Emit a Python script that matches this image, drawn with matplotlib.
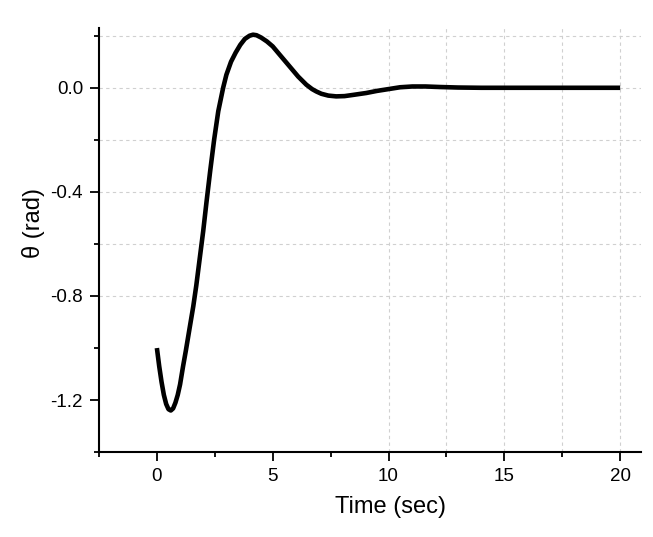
import numpy as np
import matplotlib.pyplot as plt
from matplotlib.ticker import MultipleLocator

# --------------------
# Data
# --------------------
time_s = [0.0, 0.1, 0.2, 0.3, 0.4, 0.5, 0.6, 0.7, 0.8, 0.9, 1.0, 1.13, 1.25,
          1.4, 1.57, 1.7, 1.8, 1.9, 2.0, 2.14, 2.3, 2.47, 2.65, 2.86, 3.0,
          3.2, 3.4, 3.6, 3.8, 4.0, 4.15, 4.3, 4.5, 4.75, 5.0, 5.35, 5.73,
          6.1, 6.45, 6.7, 6.88, 7.1, 7.4, 7.74, 8.1, 8.5, 9.04, 9.5, 10.0,
          10.5, 11.03, 11.6, 12.2, 13.0, 14.0, 16.0, 18.0, 20.0]
theta_rad = [-1.0, -1.07, -1.13, -1.18, -1.215, -1.235, -1.24, -1.232, -1.21,
             -1.18, -1.14, -1.07, -1.01, -0.93, -0.84, -0.76, -0.69, -0.62,
             -0.55, -0.44, -0.32, -0.2, -0.09, 0.0, 0.05, 0.1, 0.135, 0.165,
             0.188, 0.2, 0.204, 0.202, 0.193, 0.178, 0.159, 0.122, 0.082,
             0.043, 0.012, -0.005, -0.014, -0.023, -0.03, -0.033, -0.032,
             -0.027, -0.02, -0.012, -0.005, 0.002, 0.005, 0.005, 0.003,
             0.001, 0.0, 0.0, 0.0, 0.0]

x_ticks = [0, 5, 10, 15, 20]
y_ticks = [-1.2, -0.8, -0.4, 0.0]

plt.rcParams['font.family'] = ['Liberation Sans', 'DejaVu Sans']

fig = plt.figure(figsize=(6.53, 5.37), dpi=100)
ax = fig.add_axes([0.1516, 0.158, 0.83, 0.79])

# faint dotted grid (only the parts that show in the reference)
grid_kw = dict(color='#d0d0d0', linestyle=(0, (3, 3)), linewidth=0.8,
               zorder=0)
for yv in [0.2, 0.0, -0.2, -0.4, -0.6, -0.8]:
    ax.axhline(yv, **grid_kw)
for xv in [10, 12.5, 15, 17.5, 20]:
    ax.axvline(xv, **grid_kw)

ax.plot(time_s, theta_rad, color='black', linewidth=3.3,
        solid_capstyle='butt', solid_joinstyle='round', zorder=3)

ax.set_xlim(-2.5, 20.9)
ax.set_ylim(-1.4, 0.23)
ax.set_xticks(x_ticks)
ax.set_yticks(y_ticks)
ax.set_yticklabels([f"{v:.1f}" for v in y_ticks])
ax.xaxis.set_minor_locator(MultipleLocator(2.5))
ax.yaxis.set_minor_locator(MultipleLocator(0.2))

for side in ['top', 'right']:
    ax.spines[side].set_visible(False)
for side in ['left', 'bottom']:
    ax.spines[side].set_linewidth(1.5)

ax.tick_params(which='major', direction='out', length=6.5, width=1.3,
               labelsize=13.5, pad=5)
ax.tick_params(which='minor', direction='out', length=3.5, width=1.3)

ax.set_xlabel("Time (sec)", fontsize=17, labelpad=8, x=0.537)
ax.set_ylabel("θ (rad)", fontsize=17, labelpad=4, y=0.54)

fig.savefig("out.png", dpi=100)
